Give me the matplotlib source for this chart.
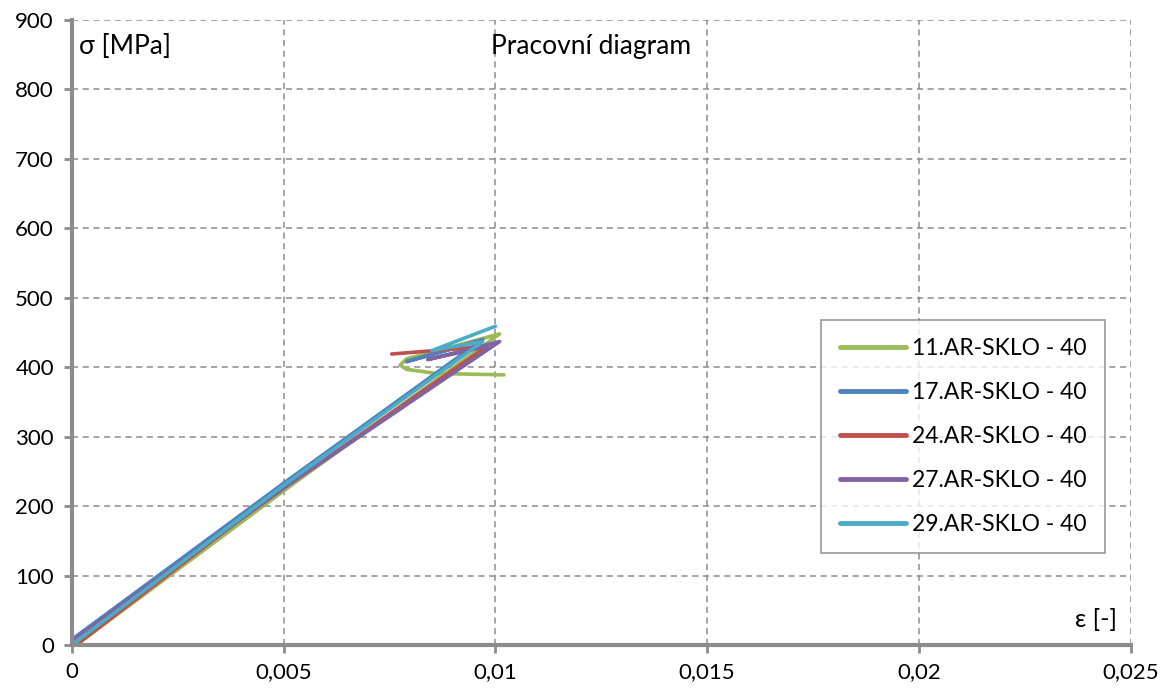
import matplotlib
matplotlib.use('Agg')
import matplotlib.pyplot as plt
from matplotlib.ticker import FuncFormatter

# strain [-] / stress [MPa]
eps_11 = [0.0001, 0.0050, 0.0101, 0.0079, 0.00775, 0.0079, 0.0086, 0.0102]
sig_11 = [0, 222, 448, 412, 403, 397, 391, 389]

eps_17 = [0.0, 0.0050, 0.0097, 0.0079, 0.0089]
sig_17 = [8, 233, 440, 408, 425]

eps_24 = [0.0001, 0.0040, 0.0041, 0.0050, 0.0098, 0.00755]
sig_24 = [0, 182, 186, 226, 430, 419]

eps_27 = [0.0, 0.0050, 0.0101, 0.0084, 0.0098]
sig_27 = [6, 226, 437, 411, 430]

eps_29 = [0.0, 0.0050, 0.0097, 0.0085, 0.0100]
sig_29 = [0, 230, 437, 424, 459]

labels = ['11.AR-SKLO - 40', '17.AR-SKLO - 40', '24.AR-SKLO - 40',
          '27.AR-SKLO - 40', '29.AR-SKLO - 40']
colors = ['#9BBB59', '#4F81BD', '#C0504D', '#8064A2', '#4BACC6']

x_ticks = [0, 0.005, 0.01, 0.015, 0.02, 0.025]
y_ticks = list(range(0, 901, 100))

plt.rcParams['font.family'] = ['Lato', 'DejaVu Sans']

fig = plt.figure(figsize=(11.68, 6.93), dpi=100)
ax = fig.add_axes([0.0616, 0.0693, 0.9064, 0.9018])

series = [(eps_11, sig_11), (eps_17, sig_17), (eps_24, sig_24),
          (eps_27, sig_27), (eps_29, sig_29)]
for (e, s), lab, c in zip(series, labels, colors):
    ax.plot(e, s, color=c, linewidth=2.6, label=lab, solid_capstyle='round',
            solid_joinstyle='round')

ax.set_xlim(0, 0.025)
ax.set_ylim(0, 900)
ax.set_xticks(x_ticks)
ax.set_yticks(y_ticks)
ax.xaxis.set_major_formatter(FuncFormatter(lambda v, p: ('%g' % v).replace('.', ',')))

ax.grid(True, color='#8c8c8c', linestyle=(0, (4, 3)), linewidth=1.1)
ax.set_axisbelow(True)
for side in ['top', 'right']:
    ax.spines[side].set_visible(False)
for side in ['left', 'bottom']:
    ax.spines[side].set_color('#8c8c8c')
    ax.spines[side].set_linewidth(3)
ax.tick_params(axis='both', direction='out', length=6, width=2, color='#8c8c8c',
               labelsize=16, labelcolor='black')
ax.tick_params(axis='x', pad=6)
ax.tick_params(axis='y', pad=7)

ax.text(0.007, 0.978, 'σ [MPa]', transform=ax.transAxes, fontsize=19,
        ha='left', va='top')
ax.text(0.49, 0.978, 'Pracovní diagram', transform=ax.transAxes, fontsize=19,
        ha='center', va='top')
ax.text(0.987, 0.022, 'ε [-]', transform=ax.transAxes, fontsize=18,
        ha='right', va='bottom')

leg = ax.legend(loc='upper left', bbox_to_anchor=(0.708, 0.52), fontsize=16.5,
                frameon=True, fancybox=False, edgecolor='#7f7f7f',
                handlelength=2.9, labelspacing=1.0, borderpad=0.8,
                handletextpad=0.25, borderaxespad=0)
leg.get_frame().set_linewidth(1.2)
for h in leg.get_lines():
    h.set_linewidth(3.5)

fig.savefig('out.png', dpi=100)
